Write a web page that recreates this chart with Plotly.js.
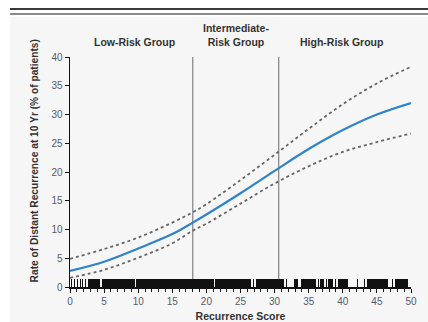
<!DOCTYPE html>
<html>
<head>
<meta charset="utf-8">
<script src="https://cdn.plot.ly/plotly-3.0.1.min.js"></script>
<style>
  html, body { margin:0; padding:0; background:#ffffff; }
  #wrap { position:relative; width:428px; height:322px; overflow:hidden; background:#ffffff; }
  #line1 { position:absolute; left:10px; top:8px; width:418px; height:2px; background:#3a3a3a; }
  #line2 { position:absolute; left:10px; top:13px; width:418px; height:2px; background:#8a8a8a; }
  #panel { position:absolute; left:10px; top:17px; width:418px; height:305px; background:#f6f6f6; }
  #chart { position:absolute; left:0; top:0; width:428px; height:322px; }
</style>
</head>
<body>
<div id="wrap">
  <div id="line1"></div>
  <div id="line2"></div>
  <div id="panel"></div>
  <div id="chart"></div>
</div>
<script>
// Recurrence score grid
const score = [0, 5, 10, 15, 18, 20, 25, 30, 35, 40, 45, 50];
// Estimated rate of distant recurrence at 10 yr (%)
const rate  = [2.8, 4.4, 6.7, 9.2, 11.2, 12.6, 16.3, 20.2, 24.0, 27.3, 30.0, 32.0];
// 95% confidence limits
const upper = [4.9, 6.6, 8.6, 11.2, 13.0, 14.4, 18.6, 23.0, 27.5, 31.8, 35.4, 38.3];
const lower = [1.6, 3.0, 5.1, 7.6, 9.8, 11.0, 14.5, 18.0, 21.0, 23.5, 25.2, 26.7];

// Risk-group cut points and labels
const groupCuts = [18, 30.6];
const groupLabels = ["Low-Risk Group", "Intermediate-<br>Risk Group", "High-Risk Group"];
const groupLabelX = [9.5, 24.3, 39.8];

// Axis titles
const xTitle = "Recurrence Score";
const yTitle = "Rate of Distant Recurrence at 10 Yr (% of patients)";

// Rug of observed recurrence scores (intervals of dense observations)
const rugStart = [0.2, 0.6, 1.0, 1.4, 1.8, 2.2, 2.6, 4.7, 9.7, 21.3, 26.8, 27.3, 31.6, 32.8, 33.9, 36.3, 36.7, 37.5, 37.9, 38.9, 39.3, 42.1, 43.1, 43.6, 47.2, 47.7];
const rugEnd   = [0.35, 0.75, 1.15, 1.55, 1.95, 2.35, 4.4, 9.5, 21.1, 26.5, 26.95, 31.4, 31.75, 33.4, 36.0, 36.45, 37.2, 37.65, 38.6, 39.05, 40.7, 42.25, 43.3, 46.7, 47.35, 49.6];
const rugHeight = 1.4;

const rugX = rugStart.map((s, i) => (s + rugEnd[i]) / 2);
const rugW = rugStart.map((s, i) => rugEnd[i] - s);
const rugY = rugStart.map(() => rugHeight);

const fontFam = '"Liberation Sans Narrow", "Arial Narrow", "Liberation Sans", Arial, sans-serif';

const traces = [
  { type:'bar', x: rugX, y: rugY, width: rugW, marker:{color:'#111111', line:{width:0}}, hoverinfo:'skip' },
  { type:'scatter', mode:'lines', x: score, y: upper, line:{color:'#666666', width:1.8, dash:'3px,3px', shape:'spline'} },
  { type:'scatter', mode:'lines', x: score, y: lower, line:{color:'#666666', width:1.8, dash:'3px,3px', shape:'spline'} },
  { type:'scatter', mode:'lines', x: score, y: rate, line:{color:'#2f84c8', width:2.2, shape:'spline'} }
];

const shapes = groupCuts.map(c => ({
  type:'line', xref:'x', yref:'y', x0:c, x1:c, y0:0, y1:40,
  line:{color:'#8a8a8a', width:1.3}, layer:'below'
}));

const annotations = groupLabels.map((t, i) => ({
  text: '<b>' + t + '</b>', xref:'x', yref:'paper', x: groupLabelX[i], y: 1,
  yanchor:'bottom', yshift: 7, showarrow:false,
  font:{family: fontFam, size:10.5, color:'#333333'}
}));
annotations.push({
  text: '<b>' + yTitle + '</b>', xref:'paper', yref:'paper', x:-0.103, y:0.55,
  textangle:-90, showarrow:false, xanchor:'center', yanchor:'middle',
  font:{family: fontFam, size:10.2, color:'#333333'}
});

const layout = {
  width:428, height:322,
  margin:{l:70, r:17, t:57, b:35},
  paper_bgcolor:'rgba(0,0,0,0)', plot_bgcolor:'rgba(0,0,0,0)',
  showlegend:false,
  bargap:0,
  xaxis:{
    range:[0,50], dtick:5, tick0:0, ticks:'outside', ticklen:4, tickwidth:1, tickcolor:'#111',
    showline:true, linecolor:'#111', linewidth:1.5, showgrid:false, zeroline:false,
    minor:{dtick:1, ticks:'outside', ticklen:3, tickcolor:'#111', showgrid:false},
    tickfont:{family: fontFam, size:10, color:'#5a5a6a'},
    title:{text:'<b>' + xTitle + '</b>', font:{family: fontFam, size:10.5, color:'#333'}, standoff:16}
  },
  yaxis:{
    range:[0,40], dtick:5, tick0:0, ticks:'outside', ticklen:4, tickwidth:1, tickcolor:'#111',
    showline:true, linecolor:'#111', linewidth:1.5, showgrid:false, zeroline:false,
    tickfont:{family: fontFam, size:10, color:'#5a5a6a'}
  },
  shapes: shapes,
  annotations: annotations
};

Plotly.newPlot('chart', traces, layout, {displayModeBar:false, staticPlot:true});
</script>
</body>
</html>
